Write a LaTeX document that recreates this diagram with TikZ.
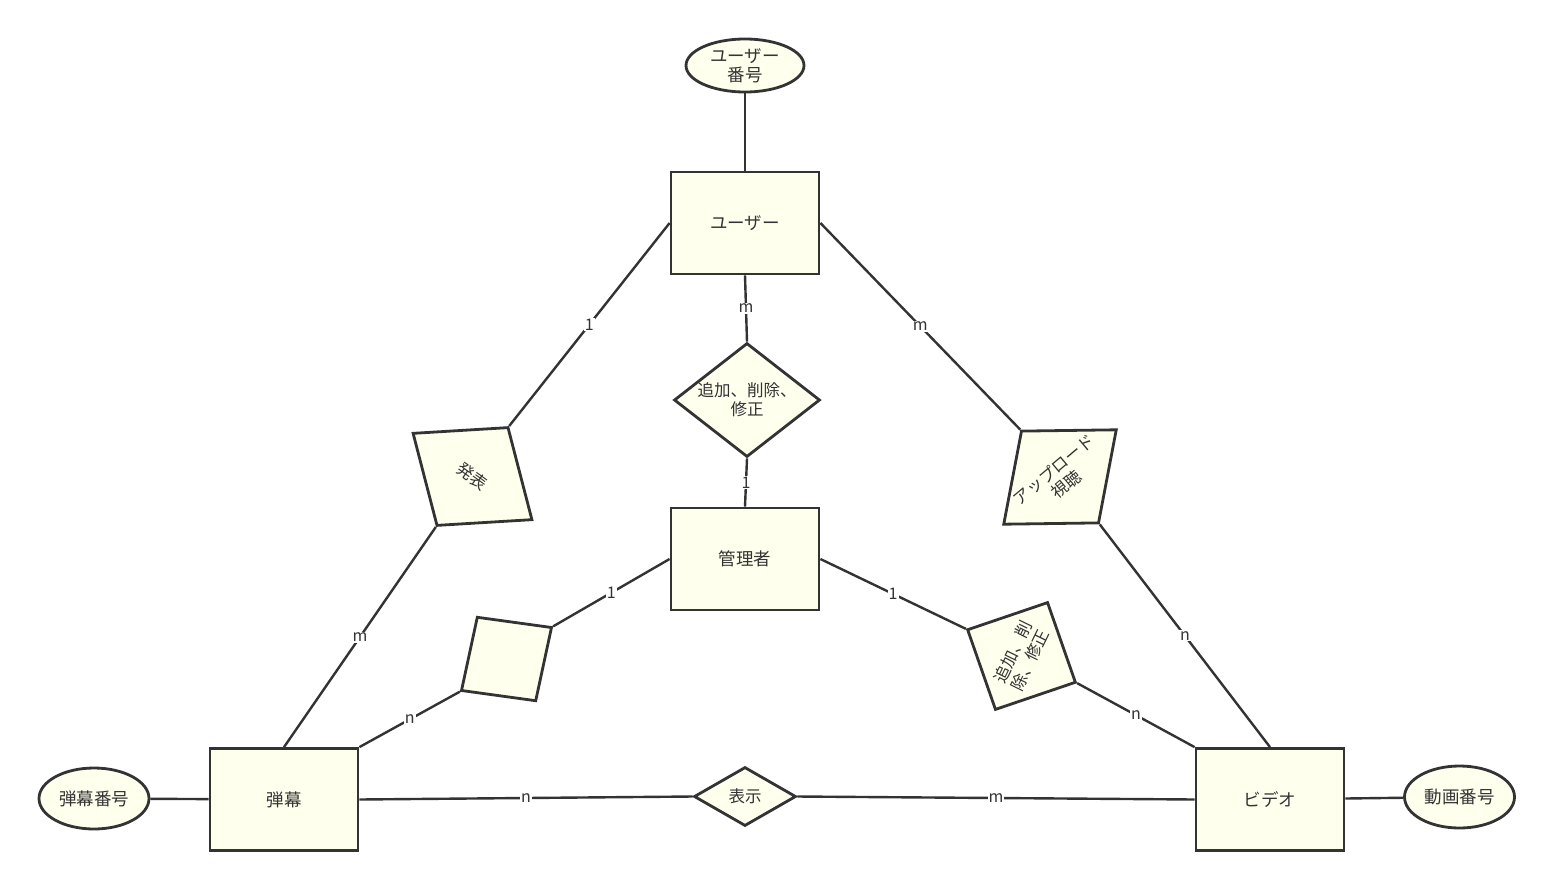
\documentclass[tikz,border=0pt]{standalone}
\usepackage{fontspec}
\setmainfont{Noto Sans CJK JP}
\usetikzlibrary{shapes.geometric}
\definecolor{ink}{HTML}{333333}
\definecolor{paper}{HTML}{FFFFEE}

\begin{document}
\begin{tikzpicture}[x=1pt,y=-1pt,
  ent/.style={draw=ink,line width=2.8pt,fill=paper,text=ink,minimum width=148pt,minimum height=102pt,font=\fontsize{17.5}{19}\selectfont},
  attr/.style={ellipse,draw=ink,line width=2.8pt,fill=paper,text=ink,inner sep=0pt,align=center,font=\fontsize{17.5}{19}\selectfont},
  rel/.style={diamond,draw=ink,line width=2.8pt,fill=paper,text=ink,inner sep=0pt,align=center,font=\fontsize{16.5}{19}\selectfont},
  card/.style={fill=white,inner sep=1pt,text=ink,font=\fontsize{16}{16}\selectfont},
  link/.style={draw=ink,line width=2.4pt}]
\useasboundingbox[fill=white] (0,0) rectangle (1552,889);
% entities
\node[ent] (nu) at (745,223) {ユーザー};
\node[ent] (nk) at (745,559) {管理者};
\node[ent] (nd) at (284,799.5) {弾幕};
\node[ent] (nv) at (1270,799.5) {ビデオ};
% attributes
\node[attr,minimum width=118pt,minimum height=53pt] (au) at (745,65.5) {ユーザー\\番号};
\node[attr,minimum width=110pt,minimum height=61pt] (ad) at (94,798.5) {弾幕番号};
\node[attr,minimum width=110pt,minimum height=62pt] (av) at (1459.5,797) {動画番号};
% relations
\node[rel,minimum width=146pt,minimum height=114pt,shape aspect=1.28] (rt) at (747,400) {追加、削除、\\修正};
\node[rel,minimum width=148pt,minimum height=122pt,shape aspect=1.2,rotate=-36] (rp) at (472.5,476.5) {発表};
\node[rel,minimum width=148pt,minimum height=121pt,shape aspect=1.22,rotate=40] (ru) at (1060,477) {アップロード\\視聴};
\node[rel,minimum width=120pt,minimum height=121pt,rotate=64] (rk) at (1021.5,656) {追加、削\\除、修正};
\node[rel,minimum width=111pt,minimum height=103pt,rotate=35] (re) at (506.5,659) {};
\node[rel,minimum width=102pt,minimum height=59pt,shape aspect=1.7] (rs) at (745,796.5) {表示};
% connectors
\draw[link] (au) -- (nu);
\draw[link] (ad) -- (nd);
\draw[link] (nv) -- (av);
\foreach \a/\b/\t in {nu.west/rp.north/1,rp.south/nd.north/m,nu.south/rt.north/m,rt.south/nk.north/1,
  nu.east/ru.north/m,ru.south/nv.north/n,nk.west/re.east/1,re.west/nd.north east/n,
  nk.east/rk.north/1,rk.south/nv.north west/n,nd.east/rs.west/n,rs.east/nv.west/m}
  \draw[link] (\a) -- node[card]{\t} (\b);
\end{tikzpicture}
\end{document}
